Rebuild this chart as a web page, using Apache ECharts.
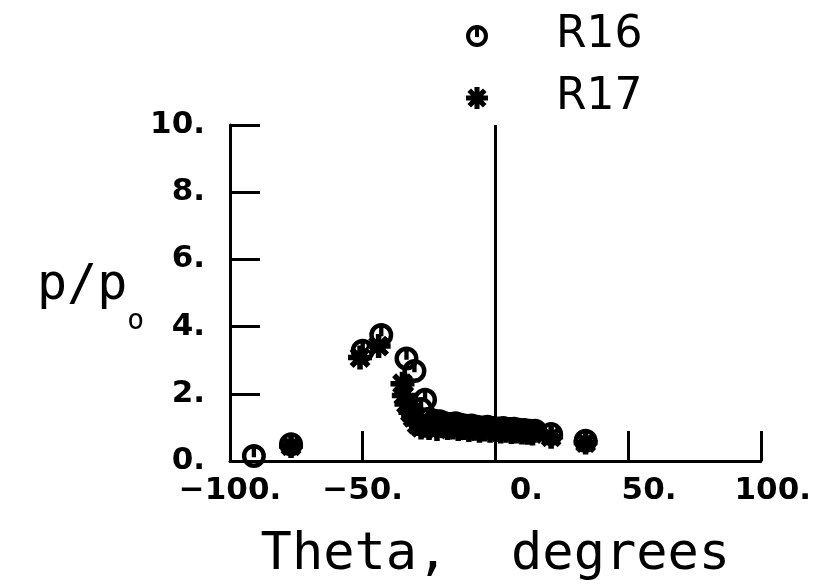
<!DOCTYPE html>
<html>
<head>
<meta charset="utf-8">
<script src="https://cdn.jsdelivr.net/npm/echarts@6/dist/echarts.min.js"></script>
<style>
  html, body { margin: 0; padding: 0; background: #fff; }
  #chart { width: 814px; height: 586px; }
</style>
</head>
<body>
<div id="chart"></div>
<script>
// values
const thetaR16 = [-91, -77, -50, -43, -33.5, -30.5, -28, -26.5, -25, -23, -21, -19, -17, -15, -13, -11, -9, -7, -5, -3, -1, 1, 3, 5, 7, 9, 11, 13, 15, 21, 34];
const pR16 = [0.15, 0.5, 3.28, 3.75, 3.05, 2.68, 1.55, 1.82, 1.25, 1.2, 1.18, 1.12, 1.1, 1.12, 1.08, 1.05, 1.06, 1.02, 1.0, 1.02, 0.98, 0.97, 0.98, 0.95, 0.96, 0.93, 0.92, 0.9, 0.9, 0.8, 0.6];

const thetaR17 = [-77, -51, -44, -35, -34.5, -33.5, -32, -31, -29.5, -28, -26.5, -25, -23.5, -22, -20, -18, -16, -14, -12, -10, -8, -6, -4, -2, 0, 2, 4, 6, 8, 10, 12, 14, 21, 34];
const pR17 = [0.45, 3.08, 3.42, 2.3, 1.95, 1.7, 1.45, 1.3, 1.1, 1.0, 1.05, 0.98, 1.08, 0.95, 1.05, 0.98, 1.0, 0.95, 0.98, 0.92, 0.96, 0.9, 0.94, 0.9, 0.92, 0.88, 0.9, 0.86, 0.88, 0.85, 0.84, 0.82, 0.72, 0.55];

const xTicks = [-100, -50, 0, 50, 100];
const yTicks = [0, 2, 4, 6, 8, 10];

// circle with a bar, and an 8 spoke asterisk
const ringIcon = 'path://M0,-10 A10,10 0 1,1 0,10 A10,10 0 1,1 0,-10 Z M0,-6.3 A6.3,6.3 0 1,0 0,6.3 A6.3,6.3 0 1,0 0,-6.3 Z M-1.8,-9 L1.8,-9 L1.8,1 L-1.8,1 Z';
const starIcon = 'path://M-2.3,-10 L2.3,-10 L2.3,10 L-2.3,10 Z M-10,-2.3 L10,-2.3 L10,2.3 L-10,2.3 Z ' +
  'M-8.7,-5.4 L-5.4,-8.7 L8.7,5.4 L5.4,8.7 Z M5.4,-8.7 L8.7,-5.4 L-5.4,8.7 L-8.7,5.4 Z';

const pair = (xs, ys) => xs.map((x, i) => [x, ys[i]]);

// the scan puts the right-hand labels a bit right of their ticks
const xShift = { 0: 62, 50: 42, 100: 24 };

const labelFont = { fontSize: 31, fontWeight: 'bold', fontFamily: 'DejaVu Sans', color: '#000' };

const chart = echarts.init(document.getElementById('chart'));
chart.setOption({
  animation: false,
  backgroundColor: '#fff',
  grid: { left: 230, right: 52, top: 125, bottom: 124 },
  legend: {
    orient: 'vertical',
    left: 461,
    top: 9,
    itemWidth: 148,
    itemHeight: 22,
    itemGap: 18,
    textStyle: { fontSize: 44, fontFamily: 'DejaVu Sans', color: '#000' },
    data: [
      { name: 'R16', icon: ringIcon },
      { name: 'R17', icon: starIcon }
    ]
  },
  xAxis: {
    type: 'value',
    min: -100,
    max: 100,
    interval: 50,
    name: 'Theta,  degrees',
    nameLocation: 'middle',
    nameGap: 68,
    nameTextStyle: { fontSize: 52, fontFamily: 'DejaVu Sans Mono', color: '#000' },
    axisLine: { onZero: false, lineStyle: { color: '#000', width: 3 } },
    axisTick: { inside: true, length: 30, lineStyle: { color: '#000', width: 3 } },
    splitLine: { show: false },
    axisLabel: Object.assign({}, labelFont, {
      margin: 14,
      formatter: v => {
        const txt = (v < 0 ? '\u2212' + Math.abs(v) : v) + '.';
        return xShift[v] ? '{s' + v + '|' + txt + '}' : txt;
      },
      rich: {
        s0: Object.assign({}, labelFont, { padding: [0, 0, 0, xShift[0]] }),
        s50: Object.assign({}, labelFont, { padding: [0, 0, 0, xShift[50]] }),
        s100: Object.assign({}, labelFont, { padding: [0, 0, 0, xShift[100]] })
      }
    })
  },
  yAxis: {
    type: 'value',
    min: 0,
    max: 10,
    interval: 2,
    name: '{a|p/p}{b|o}',
    nameLocation: 'middle',
    nameRotate: 0,
    nameGap: 85,
    nameTextStyle: {
      align: 'right',
      verticalAlign: 'middle',
      padding: [0, 0, 14, 0],
      rich: {
        a: { fontSize: 50, fontFamily: 'DejaVu Sans Mono', color: '#000', lineHeight: 100 },
        b: { fontSize: 28, fontFamily: 'DejaVu Sans Mono', color: '#000', lineHeight: 100, verticalAlign: 'bottom' }
      }
    },
    axisLine: { onZero: false, lineStyle: { color: '#000', width: 3 } },
    axisTick: { inside: true, length: 30, lineStyle: { color: '#000', width: 3 } },
    splitLine: { show: false },
    axisLabel: Object.assign({}, labelFont, {
      margin: 25,
      formatter: v => v + '.'
    })
  },
  series: [
    {
      name: 'R16',
      type: 'scatter',
      symbol: ringIcon,
      symbolSize: 24,
      itemStyle: { color: '#000', opacity: 1 },
      data: pair(thetaR16, pR16),
      markLine: {
        silent: true,
        symbol: 'none',
        label: { show: false },
        lineStyle: { color: '#000', width: 3, type: 'solid' },
        data: [{ xAxis: 0 }]
      }
    },
    {
      name: 'R17',
      type: 'scatter',
      symbol: starIcon,
      symbolSize: 24,
      itemStyle: { color: '#000', opacity: 1 },
      data: pair(thetaR17, pR17)
    }
  ]
});
</script>
</body>
</html>
